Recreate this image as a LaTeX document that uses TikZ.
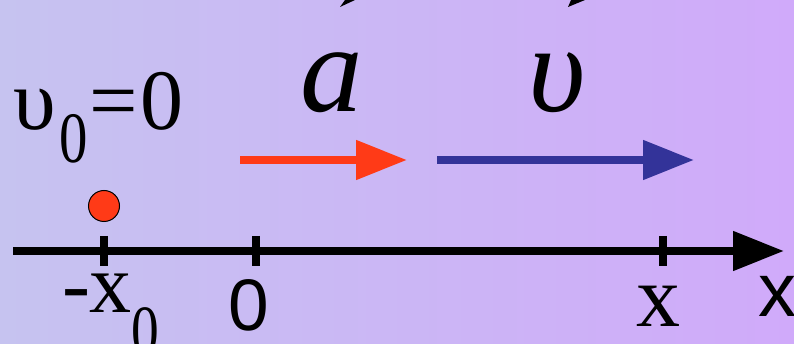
\documentclass[tikz,border=0pt]{standalone}
\usepackage{fontspec}
\setmainfont{Liberation Serif}
\newfontfamily\sansf{Liberation Sans}
\usetikzlibrary{arrows.meta}
\definecolor{bgleft}{RGB}{198,195,240}
\definecolor{bgright}{RGB}{208,170,250}
\definecolor{accred}{RGB}{255,58,23}
\definecolor{velblue}{RGB}{51,51,153}
\begin{document}
\begin{tikzpicture}[x=1pt,y=-1pt,
  lbl/.style={inner sep=0pt,outer sep=0pt,text=black},
  vecarrow/.style={line width=8pt,-{Triangle[length=51pt,width=38pt]}},
  tickmark/.style={line width=8pt,black}]
\useasboundingbox (0,0) rectangle (794,344);
\shade[left color=bgleft,right color=bgright] (0,0) rectangle (794,344);
% partial tips at the top edge
\fill[black] (340,7) -- (345,0) -- (355,0) -- cycle;
\fill[black] (568,7) -- (571,0) -- (585,0) -- cycle;
% axis
\coordinate (axL) at (13,251);
\coordinate (axR) at (784,251);
\draw[line width=8pt,-{Triangle[length=51pt,width=38pt]}] (axL) -- (axR);
\coordinate (t1a) at (104,236); \coordinate (t1b) at (104,266);
\coordinate (t2a) at (256,236); \coordinate (t2b) at (256,266);
\coordinate (t3a) at (663,236); \coordinate (t3b) at (663,266);
\draw[tickmark] (t1a) -- (t1b);
\draw[tickmark] (t2a) -- (t2b);
\draw[tickmark] (t3a) -- (t3b);
% body
\node[circle,fill=accred,draw=black,line width=1pt,minimum size=31pt,inner sep=0pt] (body) at (104,206) {};
% vectors
\coordinate (aS) at (240,160); \coordinate (aE) at (407,160);
\coordinate (vS) at (437,160); \coordinate (vE) at (694,160);
\draw[vecarrow,accred] (aS) -- (aE);
\draw[vecarrow,velblue] (vS) -- (vE);
% labels
\node[lbl,anchor=base west,font=\fontsize{86}{86}\selectfont] (v0) at (13,130)
  {υ\kern0.04em\raisebox{-0.38em}{\scalebox{0.66}[0.84]{0}}\kern0.03em=\kern0.02em0};
\node[lbl,anchor=base west,font=\fontsize{84}{84}\selectfont] (mx0) at (62,312)
  {-x\raisebox{-0.5em}{\scalebox{0.66}[0.84]{0}}};
\node[lbl,anchor=base,font=\sansf\fontsize{73}{73}\selectfont] (zero) at (249,330) {0};
\node[lbl,anchor=base,font=\fontsize{88}{88}\selectfont] (xt) at (658,326) {x};
\node[lbl,anchor=base west,font=\sansf\fontsize{76}{76}\selectfont] (xa) at (758,316) {x};
\node[lbl,anchor=base,font=\itshape\fontsize{125}{125}\selectfont] (alab) at (332,112) {a};
\node[lbl,anchor=base,font=\itshape\fontsize{125}{125}\selectfont] (vlab) at (557,112) {υ};
\end{tikzpicture}
\end{document}
